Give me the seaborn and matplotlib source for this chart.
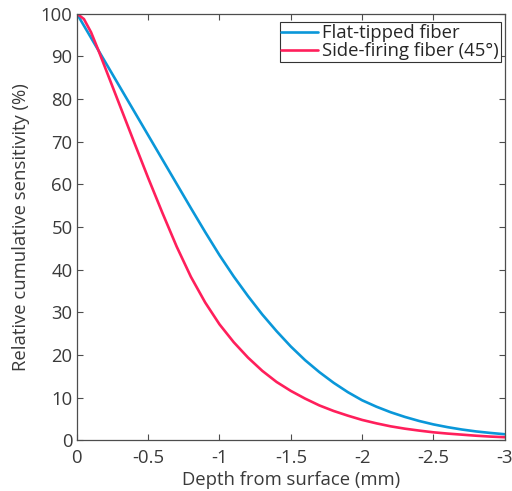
import numpy as np
import pandas as pd
import seaborn as sns
import matplotlib
matplotlib.use("Agg")
import matplotlib.pyplot as plt

# depth (mm) and relative cumulative sensitivity (%)
depth = [0.0, -0.05, -0.1, -0.15, -0.2, -0.3, -0.4, -0.5, -0.6, -0.7, -0.8, -0.9,
         -1.0, -1.1, -1.2, -1.3, -1.4, -1.5, -1.6, -1.7, -1.8, -1.9, -2.0,
         -2.1, -2.2, -2.3, -2.4, -2.5, -2.6, -2.7, -2.8, -2.9, -3.0]

flat_tipped = [100.0, 97.15, 94.3, 91.45, 88.6, 82.9, 77.2, 71.5, 65.8, 60.1, 54.4, 48.8,
               43.4, 38.4, 33.8, 29.5, 25.6, 22.0, 18.8, 16.0, 13.5, 11.3, 9.4,
               7.9, 6.6, 5.5, 4.55, 3.75, 3.1, 2.55, 2.1, 1.75, 1.45]

side_firing = [100.0, 98.7, 95.6, 91.5, 87.2, 78.6, 70.0, 61.5, 53.3, 45.4, 38.3, 32.3,
               27.2, 23.0, 19.4, 16.3, 13.7, 11.6, 9.8, 8.2, 6.9, 5.8, 4.8,
               4.0, 3.3, 2.75, 2.3, 1.9, 1.6, 1.35, 1.1, 0.9, 0.75]

series_names = ["Flat-tipped fiber", "Side-firing fiber (45\u00b0)"]
colors = ["#0A97D9", "#FF1F5B"]

xticks = [0, -0.5, -1, -1.5, -2, -2.5, -3]
xtick_labels = ["0", "-0.5", "-1", "-1.5", "-2", "-2.5", "-3"]
yticks = list(range(0, 101, 10))

df = pd.concat([
    pd.DataFrame({"depth": depth, "sens": flat_tipped, "fiber": series_names[0]}),
    pd.DataFrame({"depth": depth, "sens": side_firing, "fiber": series_names[1]}),
])

sns.set_style("ticks")
plt.rcParams["font.family"] = ["Open Sans", "DejaVu Sans"]
plt.rcParams["axes.unicode_minus"] = False

gray = "#4D4D4D"
txt = "#3A3A3A"
fs = 13.3
fig = plt.figure(figsize=(5.12, 4.91), dpi=100)
ax = fig.add_axes([0.150, 0.103, 0.836, 0.8695])

sns.lineplot(data=df, x="depth", y="sens", hue="fiber", hue_order=series_names,
             palette=colors, linewidth=1.9, ax=ax, sort=False)

ax.set_xlim(0, -3)
ax.set_ylim(0, 100)
ax.set_xticks(xticks)
ax.set_xticklabels(xtick_labels)
ax.set_yticks(yticks)
ax.tick_params(direction="in", length=4, width=0.8, colors=gray, labelsize=fs,
               top=True, right=True, labelcolor=txt, pad=3)
ax.tick_params(axis="x", pad=6)
for s in ax.spines.values():
    s.set_color(gray)
    s.set_linewidth(0.9)
    s.set_visible(True)

ax.set_xlabel("Depth from surface (mm)", fontsize=fs, color=txt, labelpad=3)
ax.set_ylabel("Relative cumulative sensitivity (%)", fontsize=fs, color=txt, labelpad=8)

leg = ax.legend(loc="upper right", bbox_to_anchor=(0.99, 0.979), fontsize=fs,
                frameon=True, fancybox=False, handlelength=2.0, handletextpad=0.2,
                borderpad=0.1, borderaxespad=0.0, labelspacing=0.0)
leg.get_frame().set_edgecolor("#333333")
leg.get_frame().set_linewidth(0.8)
leg.get_frame().set_alpha(1)

fig.savefig("out.png", dpi=100)
